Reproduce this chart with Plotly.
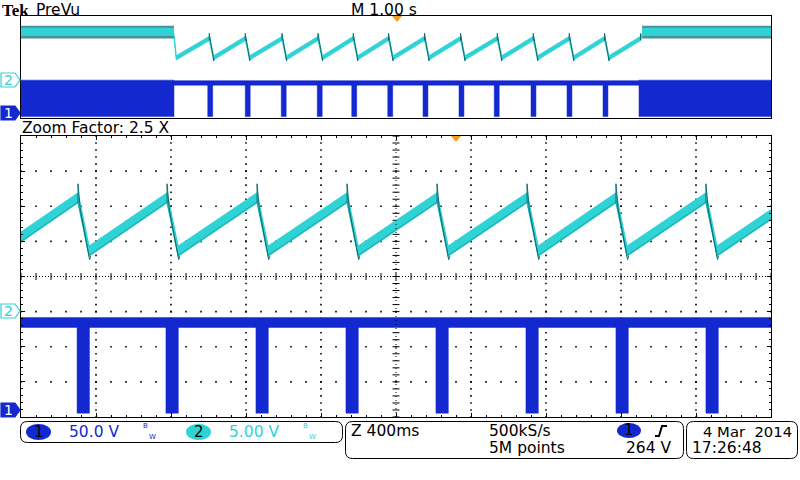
import numpy as np
import plotly.graph_objects as go

W, H = 800, 480

# ---------------- channel settings ----------------
ch1_v_per_div = 50.0
ch2_v_per_div = 5.0
ch1_pos_div = -3.81
ch2_pos_div = -1.04

# ---------------- zoomed (main) window: 10 div x 400 ms ----------------
main_range_ms = [0, 4000]
main_div_ms = 400
main_peak_ms = [304, 779, 1259, 1739, 2219, 2699, 3173, 3653]
main_trough_ms = [363, 838, 1318, 1798, 2278, 2758, 3232, 3712]
main_edge_v = [10.8, 14.0]        # ch2 value at left / right screen edge
saw_peak_v = 16.4
saw_trough_v = 8.8
saw_spike_v = [18.4, 7.6]         # overshoot above peak / below trough
main_band_v = 0.7                 # half thickness of the ch2 trace

main_pulse_ms = [299, 773, 1253, 1733, 2213, 2693, 3173, 3653]
pulse_width_ms = 66
ch1_on_v = 125
ch1_band_v = 7
ch1_low_v = -4

# ---------------- preview window: 10 div x 1 s ----------------
prev_range_s = [0, 10]
prev_switch_s = [2.04, 8.28]
prev_idle_v = [17.4, 20.6]
prev_idle_fuzz_v = [16.4, 21.4]
prev_trough_s = [2.07, 2.57, 3.05, 3.54, 4.02, 4.49, 4.96, 5.44, 5.92, 6.41, 6.89, 7.37, 7.84]
prev_peak_s = [2.51, 2.99, 3.48, 3.96, 4.43, 4.90, 5.38, 5.86, 6.35, 6.83, 7.31, 7.78, 8.26]
prev_band_v = 0.8
prev_pulse_s = [2.49, 2.99, 3.47, 3.95, 4.41, 4.89, 5.36, 5.84, 6.31, 6.80, 7.28, 7.76]
prev_pulse_width_s = 0.066
prev_burst_s = [[0.0, 2.04], [8.24, 10.0]]
prev_burst_top_v = 139
prev_ch1_on_v = 128
prev_ch1_band_v = 9

# ---------------- readouts ----------------
ch1_label, ch1_scale_txt = "1", "50.0 V"
ch2_label, ch2_scale_txt = "2", "5.00 V"
zoom_txt = "Z 400ms"
rate_txt = "500kS/s"
points_txt = "5M points"
trig_level_txt = "264 V"
date_txt = "4 Mar  2014"
time_txt = "17:26:48"

BLUE = "#1428d0"
CYAN = "#2fd3d5"
TEAL = "#0b6e73"
ORANGE = "#f5a020"
FONT = "DejaVu Sans"


def ch1(v):
    return np.asarray(v, float) / ch1_v_per_div + ch1_pos_div


def ch2(v):
    return np.asarray(v, float) / ch2_v_per_div + ch2_pos_div


def conv(f, seq):
    return [None if s is None else float(f(s)) for s in seq]


def rects(spans, lo, hi):
    xs, ys = [], []
    for a, b in spans:
        xs += [a, b, b, a, a, None]
        ys += [lo, lo, hi, hi, lo, None]
    return xs, ys


def band_polygon(t, v, h):
    t = list(t)
    v = np.asarray(v, float)
    xs = t + t[::-1]
    ys = list(v + h) + list((v - h)[::-1])
    return xs, ys


fig = go.Figure()

# ====== graticule dots (main window) ======
gx, gy = [], []
for yl in [-3, -2, -1, 1, 2, 3]:
    for xv in np.arange(0, 4001, main_div_ms / 5):
        gx.append(xv)
        gy.append(yl)
for xl in [400, 800, 1200, 1600, 2400, 2800, 3200, 3600]:
    for yv in np.arange(-4, 4.01, 0.2):
        gx.append(xl)
        gy.append(yv)
fig.add_trace(go.Scatter(x=gx, y=gy, mode="markers",
                         marker=dict(symbol="square", size=1.6, color="black", line=dict(width=0)),
                         xaxis="x", yaxis="y", hoverinfo="skip"))
# centre cross-hair
cx = np.arange(0, 4001, main_div_ms / 5)
fig.add_trace(go.Scatter(x=cx, y=np.zeros_like(cx), mode="markers",
                         marker=dict(symbol="line-ns", size=5, line=dict(color="black", width=1)),
                         xaxis="x", yaxis="y", hoverinfo="skip"))
cy = np.arange(-4, 4.01, 0.2)
fig.add_trace(go.Scatter(x=np.full_like(cy, 2000), y=cy, mode="markers",
                         marker=dict(symbol="line-ew", size=5, line=dict(color="black", width=1)),
                         xaxis="x", yaxis="y", hoverinfo="skip"))

# ====== main window: ch2 sawtooth ======
mt = [main_range_ms[0]]
mv = [main_edge_v[0]]
for p, q in zip(main_peak_ms, main_trough_ms):
    mt += [p, q]
    mv += [saw_peak_v, saw_trough_v]
mt.append(main_range_ms[1])
mv.append(main_edge_v[1])
bx, by = band_polygon(mt, mv, main_band_v)
fig.add_trace(go.Scatter(x=bx, y=ch2(np.array(by, float)), mode="lines", fill="toself",
                         fillcolor=CYAN, line=dict(color=CYAN, width=1.2),
                         xaxis="x", yaxis="y", hoverinfo="skip"))
fig.add_trace(go.Scatter(x=mt, y=ch2(np.array(mv) - main_band_v + 0.1), mode="lines",
                         line=dict(color=TEAL, width=1), opacity=0.45,
                         xaxis="x", yaxis="y", hoverinfo="skip"))
sx, sy = [], []
for p, q in zip(main_peak_ms, main_trough_ms):
    sx += [p, p, p + 12, q + 3, q + 9, None]
    sy += [saw_peak_v - main_band_v, saw_spike_v[0], saw_peak_v - 1.6, saw_spike_v[1],
           saw_trough_v - main_band_v, None]
fig.add_trace(go.Scatter(x=sx, y=conv(ch2, sy), mode="lines", line=dict(color=TEAL, width=1),
                         xaxis="x", yaxis="y", hoverinfo="skip"))

# ====== main window: ch1 pulses ======
rx, ry = rects([main_range_ms], ch1_on_v - ch1_band_v, ch1_on_v + ch1_band_v)
fig.add_trace(go.Scatter(x=rx, y=conv(ch1, ry), mode="lines", fill="toself", fillcolor=BLUE,
                         line=dict(color=BLUE, width=0.5), xaxis="x", yaxis="y", hoverinfo="skip"))
rx, ry = rects([[s, s + pulse_width_ms] for s in main_pulse_ms], ch1_low_v, ch1_on_v)
fig.add_trace(go.Scatter(x=rx, y=conv(ch1, ry), mode="lines", fill="toself", fillcolor=BLUE,
                         line=dict(color=BLUE, width=0.5), xaxis="x", yaxis="y", hoverinfo="skip"))

# ====== preview: ch2 ======
idle_spans = [[prev_range_s[0], prev_switch_s[0]], [prev_switch_s[1], prev_range_s[1]]]
rx, ry = rects(idle_spans, *prev_idle_fuzz_v)
fig.add_trace(go.Scatter(x=rx, y=conv(ch2, ry), mode="lines", fill="toself", fillcolor=TEAL,
                         line=dict(color=TEAL, width=0), opacity=0.75,
                         xaxis="x2", yaxis="y2", hoverinfo="skip"))
rx, ry = rects(idle_spans, *prev_idle_v)
fig.add_trace(go.Scatter(x=rx, y=conv(ch2, ry), mode="lines", fill="toself", fillcolor=CYAN,
                         line=dict(color=CYAN, width=0), xaxis="x2", yaxis="y2", hoverinfo="skip"))
idle_mid = prev_idle_v[0]
pt = [prev_switch_s[0]]
pv = [idle_mid]
for q, p in zip(prev_trough_s, prev_peak_s):
    pt += [q, p]
    pv += [saw_trough_v, saw_peak_v]
pt.append(prev_switch_s[1])
pv.append(idle_mid)
bx, by = band_polygon(pt, pv, prev_band_v)
fig.add_trace(go.Scatter(x=bx, y=ch2(np.array(by, float)), mode="lines", fill="toself",
                         fillcolor=CYAN, line=dict(color=CYAN, width=1),
                         xaxis="x2", yaxis="y2", hoverinfo="skip"))
dx, dy = [], []
for p, q in zip(prev_peak_s, prev_trough_s[1:] + [None]):
    if q is None:
        dx += [p, p, None]
        dy += [saw_peak_v - prev_band_v, saw_spike_v[0], None]
    else:
        dx += [p, p, q, q, None]
        dy += [saw_peak_v - prev_band_v, saw_spike_v[0], saw_spike_v[1], saw_trough_v, None]
fig.add_trace(go.Scatter(x=dx, y=conv(ch2, dy), mode="lines", line=dict(color=TEAL, width=1),
                         xaxis="x2", yaxis="y2", hoverinfo="skip"))

# ====== preview: ch1 ======
rx, ry = rects(prev_burst_s, ch1_low_v, prev_burst_top_v)
fig.add_trace(go.Scatter(x=rx, y=conv(ch1, ry), mode="lines", fill="toself", fillcolor=BLUE,
                         line=dict(color=BLUE, width=0.5), xaxis="x2", yaxis="y2", hoverinfo="skip"))
rx, ry = rects([[prev_burst_s[0][1], prev_burst_s[1][0]]],
               prev_ch1_on_v - prev_ch1_band_v, prev_ch1_on_v + prev_ch1_band_v)
fig.add_trace(go.Scatter(x=rx, y=conv(ch1, ry), mode="lines", fill="toself", fillcolor=BLUE,
                         line=dict(color=BLUE, width=0.5), xaxis="x2", yaxis="y2", hoverinfo="skip"))
rx, ry = rects([[s, s + prev_pulse_width_s] for s in prev_pulse_s], ch1_low_v, prev_ch1_on_v)
fig.add_trace(go.Scatter(x=rx, y=conv(ch1, ry), mode="lines", fill="toself", fillcolor=BLUE,
                         line=dict(color=BLUE, width=0.5), xaxis="x2", yaxis="y2", hoverinfo="skip"))


# ---------------- layout helpers ----------------
def PX(x):
    return x / W


def PY(y):
    return 1 - y / H


def path(points, close=True):
    s = "M " + " L ".join(f"{PX(x):.5f},{PY(y):.5f}" for x, y in points)
    return s + (" Z" if close else "")


def rrect(x0, y0, x1, y1, r):
    p = lambda x, y: f"{PX(x):.5f},{PY(y):.5f}"
    return (f"M {p(x0 + r, y0)} L {p(x1 - r, y0)} Q {p(x1, y0)} {p(x1, y0 + r)} "
            f"L {p(x1, y1 - r)} Q {p(x1, y1)} {p(x1 - r, y1)} L {p(x0 + r, y1)} "
            f"Q {p(x0, y1)} {p(x0, y1 - r)} L {p(x0, y0 + r)} Q {p(x0, y0)} {p(x0 + r, y0)} Z")


shapes = []
annots = []


def text(x, y, s, size=15.5, color="black", anchor="left", family=FONT, vanchor="middle"):
    annots.append(dict(x=PX(x), y=PY(y), xref="paper", yref="paper", text=s, showarrow=False,
                       xanchor=anchor, yanchor=vanchor, borderpad=0,
                       font=dict(family=family, size=size, color=color)))


# centre cross-hair lines
shapes.append(dict(type="line", xref="x", yref="y", x0=0, x1=4000, y0=0, y1=0,
                   line=dict(color="black", width=1, dash="1px,2px")))
shapes.append(dict(type="line", xref="x", yref="y", x0=2000, x1=2000, y0=-4, y1=4,
                   line=dict(color="black", width=1, dash="1px,3px")))

# orange trigger-position markers
shapes.append(dict(type="path", xref="paper", yref="paper", path=path([(392, 16), (402, 16), (397, 22)]),
                   fillcolor=ORANGE, line=dict(color=ORANGE, width=0)))
shapes.append(dict(type="path", xref="paper", yref="paper", path=path([(451, 136), (461, 136), (456, 142)]),
                   fillcolor=ORANGE, line=dict(color=ORANGE, width=0)))


# channel ground markers
def marker(yc, label, filled, col):
    pts = [(1, yc - 7), (15, yc - 7), (20, yc), (15, yc + 7), (1, yc + 7)]
    shapes.append(dict(type="path", xref="paper", yref="paper", path=path(pts),
                       fillcolor=col if filled else "white", line=dict(color=col, width=1.2)))
    text(8, yc, label, size=14, color="white" if filled else col, anchor="center")


marker(311, ch2_label, False, CYAN)
marker(410, ch1_label, True, BLUE)
marker(80, ch2_label, False, CYAN)
marker(113, ch1_label, True, BLUE)

# readout boxes
for x0, y0, x1, y1 in [(20.5, 421.5, 342.5, 442.5), (345.5, 421.5, 683.5, 458.5), (686.5, 421.5, 797.5, 458.5)]:
    shapes.append(dict(type="path", xref="paper", yref="paper", path=rrect(x0, y0, x1, y1, 7),
                       line=dict(color="black", width=1), fillcolor="rgba(0,0,0,0)"))
for x0, x1, y0, y1, col in [(26, 51, 424, 440, BLUE), (186, 211, 424, 440, CYAN), (617, 641, 423, 438, BLUE)]:
    shapes.append(dict(type="circle", xref="paper", yref="paper", x0=PX(x0), x1=PX(x1),
                       y0=PY(y1), y1=PY(y0), fillcolor=col, line=dict(color=col, width=0)))
# trigger slope symbol
shapes.append(dict(type="path", xref="paper", yref="paper",
                   path=path([(655, 436), (659, 436), (662, 426), (667, 426)], close=False),
                   line=dict(color="black", width=2)))

text(38.5, 432, ch1_label, size=15, color="black", anchor="center")
text(68, 432, ch1_scale_txt, color=BLUE)
text(145, 426, "B", size=7, color=BLUE, anchor="center")
text(152, 437, "W", size=7, color=BLUE, anchor="center")
text(198.5, 432, ch2_label, size=15, color="black", anchor="center")
text(228, 432, ch2_scale_txt, color=CYAN)
text(305, 426, "B", size=7, color=CYAN, anchor="center")
text(312, 437, "W", size=7, color=CYAN, anchor="center")
text(350, 431, zoom_txt)
text(488, 431, rate_txt)
text(488, 448, points_txt)
text(629, 430, ch1_label, size=15, color="black", anchor="center")
text(673, 448, trig_level_txt, anchor="right")
text(702, 431, date_txt, size=14.8)
text(691, 448, time_txt)

# headers
text(1, 0, "<b>Tek</b>", size=17, family="Liberation Serif", vanchor="top")
text(35, 0, "PreVu", size=15.5, vanchor="top")
text(383.5, 0, "M 1.00 s", size=15.5, anchor="center", vanchor="top")
text(21, 128, "Zoom Factor: 2.5 X", size=15.5)

frame_axis = dict(showline=True, linecolor="black", linewidth=1, mirror="ticks",
                  showticklabels=False, zeroline=False, fixedrange=True, showgrid=False)

fig.update_layout(
    width=W, height=H, margin=dict(l=0, r=0, t=0, b=0),
    paper_bgcolor="white", plot_bgcolor="white", showlegend=False,
    xaxis=dict(domain=[PX(21), PX(771)], range=main_range_ms, anchor="y",
               tick0=0, dtick=main_div_ms, ticks="inside", ticklen=4, tickcolor="black",
               minor=dict(dtick=main_div_ms / 5, ticks="inside", ticklen=2, tickcolor="black", showgrid=False),
               **frame_axis),
    yaxis=dict(domain=[PY(417), PY(136)], range=[-4, 4], anchor="x",
               tick0=0, dtick=1, ticks="inside", ticklen=4, tickcolor="black",
               minor=dict(dtick=0.2, ticks="inside", ticklen=2, tickcolor="black", showgrid=False),
               **frame_axis),
    xaxis2=dict(domain=[PX(21), PX(771)], range=prev_range_s, anchor="y2", ticks="", **frame_axis),
    yaxis2=dict(domain=[PY(118), PY(16)], range=[-4, 4], anchor="x2", ticks="", **frame_axis),
    shapes=shapes, annotations=annots,
)

fig.write_html("out.html", config={"displayModeBar": False},
               post_script="document.body.style.margin='0';document.body.style.overflow='hidden';")
